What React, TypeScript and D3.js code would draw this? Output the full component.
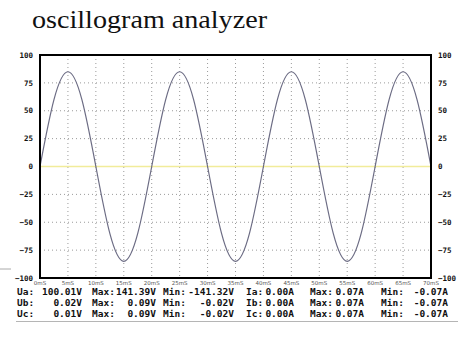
import React from "react";
import { scaleLinear, line, curveNatural, range } from "d3";

const timeMs = [
  0, 2.5, 5, 7.5, 10, 12.5, 15, 17.5, 20, 22.5, 25, 27.5, 30, 32.5, 35, 37.5,
  40, 42.5, 45, 47.5, 50, 52.5, 55, 57.5, 60, 62.5, 65, 67.5, 70,
];
const wave = [
  0, 60, 85, 60, 0, -60, -85, -60, 0, 60, 85, 60, 0, -60, -85, -60, 0, 60, 85,
  60, 0, -60, -85, -60, 0, 60, 85, 60, 0,
];
const yTicks = [100, 75, 50, 25, 0, -25, -50, -75, -100];
const xTicks = range(0, 71, 5);

const phaseLabels = ["Ua:", "Ub:", "Uc:"];
const phaseValues = ["100.01V", "0.02V", "0.01V"];
const phaseMax = ["141.39V", "0.09V", "0.09V"];
const phaseMin = ["-141.32V", "-0.02V", "-0.02V"];
const currentLabels = ["Ia:", "Ib:", "Ic:"];
const currentValues = ["0.00A", "0.00A", "0.00A"];
const currentMax = ["0.07A", "0.07A", "0.07A"];
const currentMin = ["-0.07A", "-0.07A", "-0.07A"];

export default function App() {
  const W = 463;
  const H = 351;
  const left = 40;
  const right = 431;
  const top = 55;
  const bottom = 278;

  const x = scaleLinear().domain([0, 70]).range([left, right]);
  const y = scaleLinear().domain([-100, 100]).range([bottom, top]);

  const path = line<number>()
    .x((_, i) => x(timeMs[i]))
    .y((d) => y(d))
    .curve(curveNatural)(wave);

  const tableFont = {
    fontFamily: "'DejaVu Sans Mono', monospace",
    fontWeight: 700,
    fontSize: 9.5,
  };
  const rowY = [295, 306, 317];
  const fmt = (t: number) => (t < 0 ? "\u2212" + -t : String(t));

  return (
    <svg
      width={W}
      height={H}
      style={{ position: "absolute", left: 0, top: 0, background: "#fff" }}
    >
      <text
        x={32}
        y={28}
        fontFamily="'Liberation Serif', 'DejaVu Serif', serif"
        fontSize={26}
        textLength={235}
        lengthAdjust="spacingAndGlyphs"
        fill="#111"
      >
        oscillogram analyzer
      </text>

      {/* grid */}
      {xTicks.slice(1, -1).map((t) => (
        <line
          key={"gx" + t}
          x1={x(t)}
          x2={x(t)}
          y1={top}
          y2={bottom}
          stroke="#9a9a9a"
          strokeDasharray="1,3"
        />
      ))}
      {yTicks.slice(1, -1).map((t) => (
        <line
          key={"gy" + t}
          x1={left}
          x2={right}
          y1={y(t)}
          y2={y(t)}
          stroke="#9a9a9a"
          strokeDasharray="1,3"
        />
      ))}
      <line
        x1={left}
        x2={right}
        y1={y(0)}
        y2={y(0)}
        stroke="#f1ec9a"
        strokeWidth={1.6}
      />

      <path d={path ?? ""} fill="none" stroke="#6c6c84" strokeWidth={1.2} />

      <rect
        x={left}
        y={top}
        width={right - left}
        height={bottom - top}
        fill="none"
        stroke="#000"
        strokeWidth={2}
      />

      {/* y tick labels */}
      {yTicks.map((t) => (
        <g
          key={"yl" + t}
          fontFamily="'DejaVu Sans Mono', monospace"
          fontWeight={700}
          fontSize={7.5}
          fill="#111"
        >
          <text x={33} y={y(t)} dy="0.35em" textAnchor="end">
            {fmt(t)}
          </text>
          <text x={438} y={y(t)} dy="0.35em">
            {fmt(t)}
          </text>
        </g>
      ))}

      {/* x tick labels */}
      {xTicks.map((t) => (
        <text
          key={"xl" + t}
          x={x(t)}
          y={283.5}
          dy="0.35em"
          textAnchor="middle"
          fontFamily="'DejaVu Sans', sans-serif"
          fontSize={5.5}
          fill="#555"
        >
          {t}mS
        </text>
      ))}

      <line x1={0} x2={11} y1={269} y2={269} stroke="#aaa" strokeWidth={1} />

      {/* readings table */}
      {rowY.map((ry, i) => (
        <g key={"row" + i} {...tableFont} fill="#111">
          <text x={17} y={ry}>{phaseLabels[i]}</text>
          <text x={82} y={ry} textAnchor="end">{phaseValues[i]}</text>
          <text x={92} y={ry}>Max:</text>
          <text x={156} y={ry} textAnchor="end">{phaseMax[i]}</text>
          <text x={163} y={ry}>Min:</text>
          <text x={234} y={ry} textAnchor="end">{phaseMin[i]}</text>
          <text x={246} y={ry}>{currentLabels[i]}</text>
          <text x={294} y={ry} textAnchor="end">{currentValues[i]}</text>
          <text x={310} y={ry}>Max:</text>
          <text x={364} y={ry} textAnchor="end">{currentMax[i]}</text>
          <text x={381} y={ry}>Min:</text>
          <text x={448} y={ry} textAnchor="end">{currentMin[i]}</text>
        </g>
      ))}
      <line x1={16} x2={458} y1={321.5} y2={321.5} stroke="#b5b5b5" strokeWidth={1} />
    </svg>
  );
}
